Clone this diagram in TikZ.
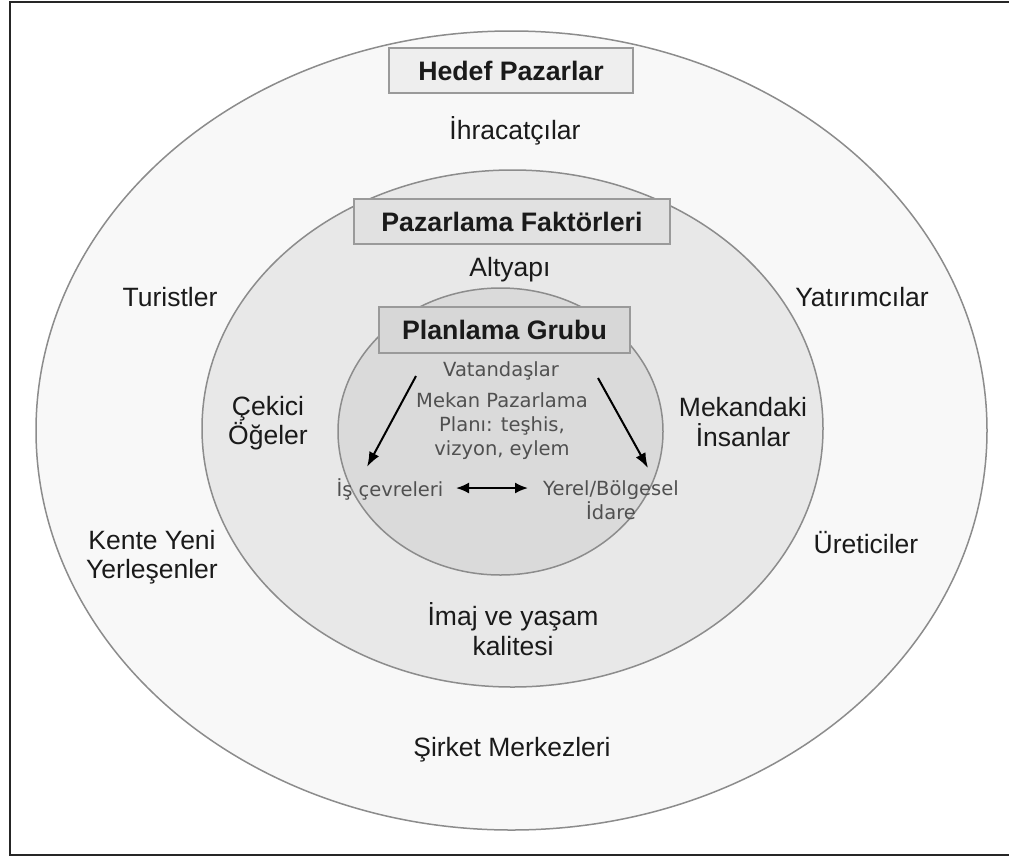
\documentclass[tikz,border=0pt]{standalone}
\usepackage{fontspec}
\setmainfont{Liberation Sans}
\newfontfamily\dvfont{DejaVu Sans}
\usetikzlibrary{arrows.meta}
\definecolor{ringout}{HTML}{F8F8F8}
\definecolor{ringmid}{HTML}{E8E8E8}
\definecolor{ringin}{HTML}{DADADA}
\definecolor{edgegray}{HTML}{8C8C8C}
\definecolor{boxedge}{HTML}{9A9A9A}
\definecolor{txtdark}{HTML}{1A1A1A}
\definecolor{txtgray}{HTML}{505050}
\tikzset{
  ringline/.style={draw=edgegray, line width=1.5pt},
  titlebox/.style={draw=boxedge, line width=1.6pt, inner sep=0pt, text=txtdark,
    font=\fontsize{26.7}{30}\selectfont\bfseries},
  lbl/.style={text=txtdark, align=center, inner sep=0pt,
    font=\fontsize{26.5}{29.5}\selectfont},
  smalllbl/.style={text=txtgray, align=center, inner sep=0pt,
    font=\dvfont\fontsize{19.5}{24}\selectfont},
  arr/.style={-{Latex[length=15pt,width=11pt]}, line width=2pt, black},
  dblarr/.style={{Latex[length=13pt,width=11pt]}-{Latex[length=13pt,width=11pt]}, line width=2pt, black},
  framel/.style={draw=black!85, line width=2.5pt}
}
\begin{document}
\begin{tikzpicture}[x=1pt,y=-1pt]
\useasboundingbox (0,0) rectangle (1009,860);
\fill[white] (0,0) rectangle (1009,860);
\draw[framel] (1012,2) -- (10,2) -- (10,855) -- (1012,855);

% rings
\filldraw[ringline, fill=ringout] (511.5,430.5) ellipse [x radius=475.5pt, y radius=399.5pt];
\filldraw[ringline, fill=ringmid] (512.5,428.5) ellipse [x radius=310.5pt, y radius=258.5pt];
\filldraw[ringline, fill=ringin] (500.5,431.5) ellipse [x radius=162.5pt, y radius=143.5pt];

% title boxes
\node[titlebox, fill=ringout!96!black, minimum width=244pt, minimum height=45pt] (hedef) at (511,70.5) {Hedef Pazarlar};
\node[titlebox, fill=ringmid!97!black, minimum width=316pt, minimum height=45pt] (pazf) at (512,221.5) {Pazarlama Faktörleri};
\node[titlebox, fill=ringin!108, minimum width=251pt, minimum height=46pt] (plan) at (504.5,330) {Planlama Grubu};

% outer ring labels
\node[lbl] (ihr) at (515,131) {İhracatçılar};
\node[lbl] (tur) at (170,297) {Turistler};
\node[lbl] (yat) at (862,297) {Yatırımcılar};
\node[lbl] (kente) at (152,557) {Kente Yeni\\Yerleşenler};
\node[lbl] (uret) at (866,543) {Üreticiler};
\node[lbl] (sirket) at (512,750) {Şirket Merkezleri};

% middle ring labels
\node[lbl] (alt) at (510,270) {Altyapı};
\node[lbl] (cek) at (268,423) {Çekici\\Öğeler};
\node[lbl] (mek) at (743,422) {Mekandaki\\İnsanlar};
\node[lbl] (imaj) at (513,629) {İmaj ve yaşam\\kalitesi};

% inner labels
\node[smalllbl] (vat) at (501,371) {Vatandaşlar};
\node[smalllbl] (plani) at (502,426) {Mekan Pazarlama\\Planı: teşhis,\\vizyon, eylem};
\node[smalllbl] (is) at (390,489) {İş çevreleri};
\node[smalllbl] (yerel) at (611,500) {Yerel/Bölgesel\\İdare};

% arrows
\coordinate (la) at (416,376);
\coordinate (lt) at (367,467);
\coordinate (ra) at (598,378);
\coordinate (rt) at (648,468);
\coordinate (da) at (456,488);
\coordinate (db) at (528,488);
\draw[arr] (la) -- (lt);
\draw[arr] (ra) -- (rt);
\draw[dblarr] (da) -- (db);
\end{tikzpicture}
\end{document}
